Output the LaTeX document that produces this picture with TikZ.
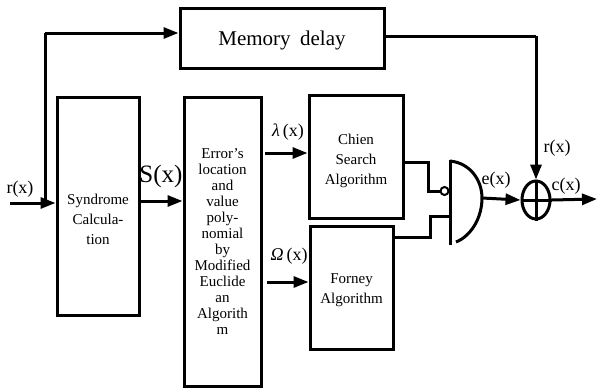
\documentclass[tikz,border=0pt]{standalone}
\usepackage{fontspec}
\setmainfont{Liberation Serif}
\usetikzlibrary{arrows.meta,shapes.geometric}
\begin{document}
\begin{tikzpicture}[x=1pt,y=-1pt,
  lw/.style={line width=3pt},
  blk/.style={draw,lw,inner sep=0pt},
  txt/.style={font=\fontsize{15}{16}\selectfont,align=center,inner sep=0pt},
  btxt/.style={font=\fontsize{15}{20}\selectfont,align=center,inner sep=0pt},
  lbl/.style={font=\fontsize{18}{20}\selectfont,inner sep=0pt},
  arr/.style={lw,-{Triangle[length=15pt,width=11pt]}},
  wire/.style={lw}]
\useasboundingbox (0,0) rectangle (597,388);
% boxes
\node[blk,minimum width=204pt,minimum height=60pt] (mem) at (282,38) {};
\node[font=\fontsize{21}{23}\selectfont,inner sep=0pt] (memt) at (282,40) {Memory\hspace{0.45em}delay};
\node[blk,minimum width=82pt,minimum height=218pt] (syn) at (98,206) {};
\node[btxt] (synt) at (98,219) {Syndrome\\Calcula-\\tion};
\node[blk,minimum width=77pt,minimum height=289pt] (euc) at (222.5,241.5) {};
\node[txt] (euct) at (222.5,242) {Error's\\location\\and\\value\\poly-\\nomial\\by\\Modified\\Euclide\\an\\Algorith\\m};
\node[blk,minimum width=94pt,minimum height=123pt] (chien) at (356,156.5) {};
\node[btxt] (chient) at (356,161) {Chien\\Search\\Algorithm};
\node[blk,minimum width=83pt,minimum height=123pt] (forney) at (351.5,287.5) {};
\node[btxt] (forneyt) at (351.5,290) {Forney\\Algorithm};
% input
\coordinate (in) at (10,203);
\coordinate (br) at (45,203);
\coordinate (top) at (45,33);
\node[lbl] (rx) at (20,189) {r(x)};
\draw[arr] (in) -- (syn.west |- in);
\draw[wire] (br) -- (top);
\draw[arr] (top) -- (mem.west |- top);
% S(x)
\node[font=\fontsize{25}{27}\selectfont,inner sep=0pt] (sx) at (161,176) {S(x)};
\draw[arr] (syn.east |- 0,201) -- (euc.west |- 0,201);
% lambda, omega
\coordinate (la) at (265,153);
\coordinate (om) at (267,282);
\node[lbl] (lx) at (288,132) {\textit{λ}\,(x)};
\node[lbl] (ox) at (289,256) {\textit{Ω}\,(x)};
\draw[arr] (la) -- (chien.west |- la);
\draw[arr] (om) -- (forney.west |- om);
% gate
\coordinate (gt) at (450,160);
\coordinate (gb) at (450,245);
\coordinate (gout) at (482,198);
\draw[wire] (gt) -- (gb);
\draw[wire] (450,161) .. controls (470,163) and (482,180) .. (gout) .. controls (482,218) and (471,236) .. (456,242);
\node[circle,draw,line width=2pt,minimum size=8pt,inner sep=0pt] (bub) at (444.5,191) {};
\coordinate (c1) at (428,162);
\draw[wire] (chien.east |- c1) -- (c1) -- (c1 |- bub) -- (bub.west);
\coordinate (f1) at (430,237);
\coordinate (f2) at (450,216);
\draw[wire] (forney.east |- f1) -- (f1) -- (f1 |- f2) -- (f2);
% xor
\node[ellipse,draw,lw,minimum width=28pt,minimum height=38pt,inner sep=0pt] (xor) at (536,200) {};
\draw[wire] (xor.north) -- (xor.south);
\draw[wire] (xor.west) -- (xor.east);
\node[lbl] (ex) at (496,180) {e(x)};
\draw[arr] (gout) -- (xor.west);
\coordinate (m1) at (536,36);
\draw[wire] (mem.east |- m1) -- (m1);
\draw[arr] (m1) -- (xor.north);
\node[lbl] (rx2) at (557,148) {r(x)};
\node[lbl] (cx) at (566,186) {c(x)};
\coordinate (out) at (597,199);
\draw[arr] (xor.east) -- (out);
\end{tikzpicture}
\end{document}
